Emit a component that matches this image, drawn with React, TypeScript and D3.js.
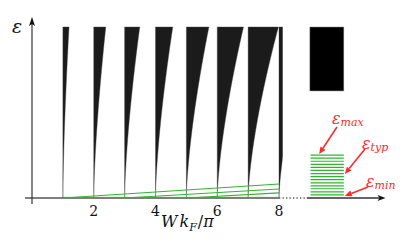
import React from "react";
import * as d3 from "d3";

// Wedge start positions (W kF / pi) and their top widths (in x units)
const wedgeStarts = [1, 2, 3, 4, 5, 6, 7, 8];
const wedgeWidths = [0.2, 0.39, 0.49, 0.56, 0.73, 0.85, 0.98, 1.05];
// Green lines: start position on axis, epsilon reached at x = 8
const greenStarts = [1, 3, 5];
const greenEndEps = [0.082, 0.053, 0.03];
// Green box levels (epsilon) between eps_min and eps_max
const boxLevels = [0.018, 0.036, 0.054, 0.071, 0.089, 0.107, 0.125, 0.143, 0.161, 0.179, 0.197, 0.215, 0.233, 0.251];
const xTicks = [2, 4, 6, 8];
const blackBlock = { x0: 9.0, x1: 10.1, e0: 0.626, e1: 1.0 };
const greenBox = { x0: 9.02, x1: 10.1 };

const W = 415, H = 246;
const x = d3.scaleLinear().domain([0, 8]).range([32, 279]);
const y = d3.scaleLinear().domain([0, 1]).range([198, 27]);

const RED = "#ff2a2a";
const GREEN = "#2fb52f";
const serif = "'DejaVu Serif', serif";

function wedgePath(n: number, w: number) {
  const steps = d3.range(0, 1.0001, 0.02);
  const pts: [number, number][] = [[x(n), y(0)], [x(n), y(1)]];
  for (let i = steps.length - 1; i >= 0; i--) {
    const e = steps[i];
    pts.push([x(n + w * Math.pow(e, 1.5)), y(e)]);
  }
  return d3.line()(pts) + "Z";
}

function Arrow({ x1, y1, x2, y2 }: { x1: number; y1: number; x2: number; y2: number }) {
  const ang = Math.atan2(y2 - y1, x2 - x1);
  const L = 7, Wd = 3;
  const bx = x2 - L * Math.cos(ang), by = y2 - L * Math.sin(ang);
  const p1 = [bx + Wd * Math.sin(ang), by - Wd * Math.cos(ang)];
  const p2 = [bx - Wd * Math.sin(ang), by + Wd * Math.cos(ang)];
  return (
    <g>
      <line x1={x1} y1={y1} x2={bx} y2={by} stroke={RED} strokeWidth={1.6} />
      <polygon points={`${x2},${y2} ${p1[0]},${p1[1]} ${p2[0]},${p2[1]}`} fill={RED} />
    </g>
  );
}

export default function App() {
  const xAxisEnd = x(11.45);
  return (
    <svg width={W} height={H} style={{ position: "fixed", left: 0, top: 0, background: "#fff" }}>
      <defs>
        <clipPath id="plotclip">
          <rect x={x(0)} y={0} width={x(8.12) - x(0)} height={H} />
        </clipPath>
      </defs>
      <g clipPath="url(#plotclip)">
        {wedgeStarts.map((n, i) => (
          <path key={n} d={wedgePath(n, wedgeWidths[i])} fill="#1b1b1b" stroke="#444" strokeWidth={0.4} />
        ))}
      </g>
      <rect x={x(blackBlock.x0)} y={y(blackBlock.e1)} width={x(blackBlock.x1) - x(blackBlock.x0)}
        height={y(blackBlock.e0) - y(blackBlock.e1)} fill="#000" stroke="#888" strokeWidth={0.5} />
      <line x1={25} y1={y(0)} x2={x(8)} y2={y(0)} stroke="#555" strokeWidth={1.3} />
      <line x1={x(8)} y1={y(0)} x2={x(8.9)} y2={y(0)} stroke="#555" strokeWidth={1.3} strokeDasharray="1.3,2.2" />
      <line x1={x(8.9)} y1={y(0)} x2={xAxisEnd - 6} y2={y(0)} stroke="#333" strokeWidth={1.3} />
      <polygon points={`${xAxisEnd},${y(0)} ${xAxisEnd - 8},${y(0) - 3} ${xAxisEnd - 6},${y(0)} ${xAxisEnd - 8},${y(0) + 3}`} fill="#111" />
      <line x1={x(0)} y1={204} x2={x(0)} y2={24} stroke="#333" strokeWidth={1.2} />
      <polygon points={`${x(0)},17 ${x(0) - 3},26 ${x(0)},24 ${x(0) + 3},26`} fill="#111" />
      {greenStarts.map((s, i) => (
        <line key={s} x1={x(s)} y1={y(0)} x2={x(8)} y2={y(greenEndEps[i])} stroke={GREEN} strokeWidth={1.1} />
      ))}
      <line x1={x(1)} y1={y(0) - 0.6} x2={x(8)} y2={y(0) - 0.6} stroke={GREEN} strokeWidth={1} />
      {boxLevels.map((e, i) => (
        <line key={i} x1={x(greenBox.x0)} y1={y(e)} x2={x(greenBox.x1)} y2={y(e)} stroke={GREEN} strokeWidth={1.2} />
      ))}
      {xTicks.map((t) => (
        <text key={t} x={x(t)} y={216} textAnchor="middle" fontFamily={serif} fontSize={14} fill="#111">{t}</text>
      ))}
      <text x={12} y={33} fontFamily={serif} fontStyle="italic" fontSize={19} fill="#111">ε</text>
      <text x={161} y={227} fontFamily={serif} fontSize={16} fill="#111">
        <tspan fontStyle="italic">W</tspan>
        <tspan fontStyle="italic" dx={2}>k</tspan>
        <tspan fontStyle="italic" fontSize={11} dy={4}>F</tspan>
        <tspan dy={-4} dx={1}>/</tspan>
        <tspan fontStyle="italic">π</tspan>
      </text>
      <Arrow x1={337} y1={127} x2={x(9.3)} y2={y(boxLevels[boxLevels.length - 1]) - 1} />
      <Arrow x1={365} y1={149} x2={x(10.1) + 1} y2={y(0.14)} />
      <Arrow x1={368} y1={187} x2={x(10.1) + 1} y2={y(boxLevels[0]) + 1} />
      <text x={332} y={124} fontFamily={serif} fontStyle="italic" fontSize={16} fill={RED}>
        ε<tspan fontSize={11} dy={2}>max</tspan>
      </text>
      <text x={362} y={149} fontFamily={serif} fontStyle="italic" fontSize={16} fill={RED}>
        ε<tspan fontSize={11} dy={2}>typ</tspan>
      </text>
      <text x={366} y={187} fontFamily={serif} fontStyle="italic" fontSize={16} fill={RED}>
        ε<tspan fontSize={11} dy={2}>min</tspan>
      </text>
    </svg>
  );
}
